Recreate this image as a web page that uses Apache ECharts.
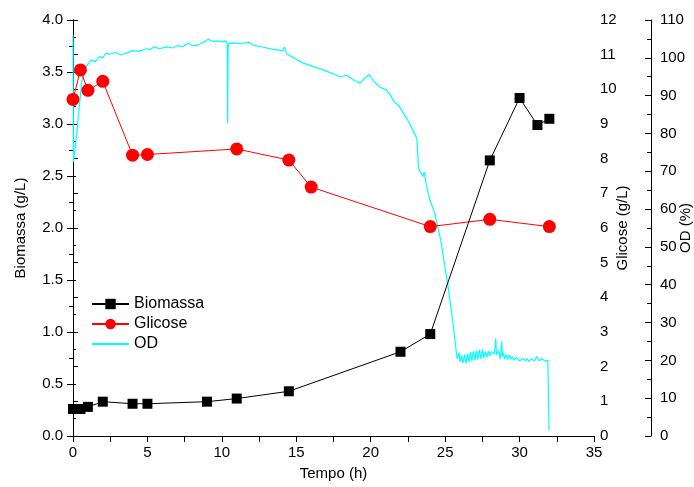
<!DOCTYPE html>
<html><head><meta charset="utf-8">
<script src="https://cdn.jsdelivr.net/npm/echarts@6/dist/echarts.min.js"></script>
<style>html,body{margin:0;padding:0;background:#fff}#c{width:694px;height:487px}</style>
</head><body><div id="c"></div>
<script>
const biomassaTime = [0, 0.5, 1, 2, 4, 5, 9, 11, 14.5, 22, 24, 28, 30, 31.2, 32];
const biomassaValue = [0.26, 0.26, 0.28, 0.33, 0.31, 0.31, 0.33, 0.36, 0.43, 0.81, 0.98, 2.65, 3.25, 2.99, 3.05];
const glicoseTime = [0, 0.5, 1, 2, 4, 5, 11, 14.5, 16, 24, 28, 32];
const glicoseValue = [9.71, 10.56, 9.97, 10.23, 8.1, 8.12, 8.28, 7.96, 7.18, 6.04, 6.25, 6.04];
const odPoints = [[0,106],[0.03,72.5],[0.2,78],[0.42,87],[0.6,94],[0.87,97.6],[1.2,99.4],[1.5,99.0],[1.77,100.3],[2.0,100.0],[2.2,101.2],[2.5,101.0],[2.9,101.4],[3.2,100.8],[3.56,101.2],[4.0,101.9],[4.4,101.7],[4.9,102.4],[5.2,102.2],[5.46,102.9],[5.8,102.4],[6.3,102.9],[6.7,102.6],[7.0,103.2],[7.4,103.0],[7.75,103.9],[8.0,103.3],[8.3,103.2],[8.7,104.0],[9.09,104.9],[9.4,104.3],[9.65,104.5],[10.0,104.2],[10.28,104.4],[10.36,103.8],[10.39,82.7],[10.42,103.0],[10.5,103.9],[11.0,103.8],[11.5,103.9],[11.78,104.1],[12.2,103.2],[12.8,102.8],[13.35,102.3],[14.1,101.9],[14.2,102.9],[14.35,101.1],[15.0,99.6],[15.47,98.6],[16.2,97.6],[16.8,96.8],[17.4,95.9],[17.9,95.0],[18.4,95.4],[18.9,94.0],[19.28,93.3],[19.6,94.6],[19.9,95.6],[20.2,93.8],[20.6,92.3],[21.07,91.4],[21.3,90.2],[21.6,88.2],[21.9,87.3],[22.2,85.3],[22.6,82.7],[23.1,78.7],[23.2,71.5],[23.26,70.3],[23.5,68.6],[23.6,69.8],[23.76,65.9],[23.98,62.4],[24.3,58.9],[24.7,51.8],[25.2,39.5],[25.5,30.7],[25.8,20.5],[25.9,20.0],[25.95,22.0],[26.0,19.6],[26.1,21.3],[26.2,19.3],[26.3,21.6],[26.4,19.2],[26.5,21.8],[26.6,19.6],[26.7,22.2],[26.8,19.8],[26.9,22.4],[27.0,20.0],[27.1,22.6],[27.2,20.2],[27.3,22.8],[27.4,20.3],[27.5,22.9],[27.6,20.6],[27.7,22.3],[27.8,20.8],[27.9,22.5],[28.0,21.2],[28.1,22.3],[28.2,22.8],[28.3,21.6],[28.4,25.8],[28.45,21.4],[28.5,21.0],[28.6,22.6],[28.7,20.4],[28.8,25.0],[28.85,21.0],[28.9,22.0],[29.0,20.4],[29.1,21.6],[29.2,20.2],[29.3,21.4],[29.4,20.3],[29.5,21.0],[29.6,20.0],[29.8,20.8],[30.0,19.8],[30.2,20.6],[30.4,19.9],[30.5,20.5],[30.6,19.7],[30.8,20.4],[31.0,19.8],[31.15,21.0],[31.3,19.9],[31.5,20.4],[31.7,19.8],[31.9,20.1],[31.98,1.6]];
const xTicks = {min: 0, max: 35, interval: 5};
const biomassaAxis = {min: 0, max: 4, interval: 0.5};
const glicoseAxis = {min: 0, max: 12, interval: 1};
const odAxis = {min: 0, max: 110, interval: 10};

const FONT = 'Liberation Sans';
const txt = {color: '#000', fontSize: 15, fontFamily: FONT};
const line = {show: true, lineStyle: {color: '#000', width: 1}};
const zip = (a, b) => a.map((v, i) => [v, b[i]]);

const chart = echarts.init(document.getElementById('c'), null, {renderer: 'canvas'});
chart.setOption({
  animation: false,
  backgroundColor: '#fff',
  grid: {left: 73, right: 100, top: 20, bottom: 51, containLabel: false, outerBoundsMode: 'none'},
  legend: {
    orient: 'vertical', left: 91, top: 296, padding: 0, itemWidth: 37, itemHeight: 13, itemGap: 4,
    data: ['Biomassa', 'Glicose', {name: 'OD', itemStyle: {opacity: 0}}],
    textStyle: {color: '#000', fontSize: 16, fontFamily: FONT}
  },
  xAxis: [
    {type: 'value', position: 'bottom', min: xTicks.min, max: xTicks.max, interval: xTicks.interval,
     axisLine: line, axisTick: {show: true, length: 6, lineStyle: {color: '#000'}},
     minorTick: {show: true, splitNumber: 2, length: 6, lineStyle: {color: '#000'}},
     splitLine: {show: false}, axisLabel: Object.assign({margin: 9}, txt),
     name: 'Tempo (h)', nameLocation: 'middle', nameGap: 30, nameMoveOverlap: false, nameTextStyle: Object.assign({}, txt)},
    {type: 'value', position: 'top', min: xTicks.min, max: xTicks.max, interval: xTicks.interval,
     axisLine: line, axisTick: {show: true, inside: true, length: 5, lineStyle: {color: '#000'}},
     minorTick: {show: true, splitNumber: 2, length: 5, lineStyle: {color: '#000'}},
     splitLine: {show: false}, axisLabel: {show: false}}
  ],
  yAxis: [
    {type: 'value', position: 'left', min: biomassaAxis.min, max: biomassaAxis.max, interval: biomassaAxis.interval,
     axisLine: line, axisTick: {show: true, length: 6, lineStyle: {color: '#000'}},
     minorTick: {show: true, splitNumber: 2, length: 4, lineStyle: {color: '#000'}},
     splitLine: {show: false},
     axisLabel: Object.assign({margin: 10, formatter: v => v.toFixed(1)}, txt),
     name: 'Biomassa (g/L)', nameLocation: 'middle', nameGap: 45, nameRotate: 90, nameMoveOverlap: false, nameTextStyle: Object.assign({}, txt)},
    {type: 'value', position: 'right', min: glicoseAxis.min, max: glicoseAxis.max, interval: glicoseAxis.interval,
     axisLine: line, axisTick: {show: true, length: 5, lineStyle: {color: '#000'}},
     minorTick: {show: true, splitNumber: 2, length: 3, lineStyle: {color: '#000'}},
     splitLine: {show: false}, axisLabel: Object.assign({margin: 6}, txt),
     name: 'Glicose (g/L)', nameLocation: 'middle', nameGap: 21, nameRotate: 90, nameMoveOverlap: false, nameTextStyle: Object.assign({}, txt)},
    {type: 'value', position: 'right', offset: 57, min: odAxis.min, max: odAxis.max, interval: odAxis.interval,
     axisLine: line, axisTick: {show: true, inside: true, length: 6, lineStyle: {color: '#000'}},
     minorTick: {show: true, splitNumber: 2, length: 4, lineStyle: {color: '#000'}},
     splitLine: {show: false}, axisLabel: Object.assign({margin: 9}, txt),
     name: 'OD (%)', nameLocation: 'middle', nameGap: 27, nameRotate: 90, nameMoveOverlap: false, nameTextStyle: Object.assign({}, txt)}
  ],
  series: [
    {name: 'OD', type: 'line', xAxisIndex: 0, yAxisIndex: 2, data: odPoints, symbol: 'none',
     color: '#00ffff', lineStyle: {color: '#00ffff', width: 1.2}, z: 2},
    {name: 'Glicose', type: 'line', xAxisIndex: 0, yAxisIndex: 1, data: zip(glicoseTime, glicoseValue),
     symbol: 'circle', symbolSize: 13, color: '#ff0000', lineStyle: {color: '#ff0000', width: 1}, z: 3},
    {name: 'Biomassa', type: 'line', xAxisIndex: 0, yAxisIndex: 0, data: zip(biomassaTime, biomassaValue),
     symbol: 'rect', symbolSize: 10, color: '#000', lineStyle: {color: '#000', width: 1}, z: 4}
  ]
});
</script></body></html>
